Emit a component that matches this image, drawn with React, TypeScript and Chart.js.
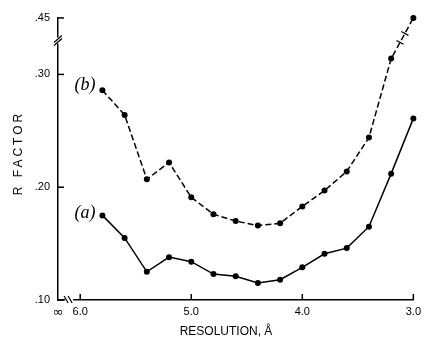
import React, { useEffect, useRef } from 'react';
import { Chart, registerables } from 'chart.js';

Chart.register(...registerables);

// Resolution (Å) of each measured point
const RESOLUTION = [5.8, 5.6, 5.4, 5.2, 5.0, 4.8, 4.6, 4.4, 4.2, 4.0, 3.8, 3.6, 3.4, 3.2, 3.0];
// Curve (a): solid
const SERIES_A = [0.175, 0.155, 0.125, 0.138, 0.134, 0.123, 0.121, 0.115, 0.118, 0.129, 0.141, 0.146, 0.165, 0.212, 0.261];
// Curve (b): dashed
const SERIES_B = [0.286, 0.264, 0.207, 0.222, 0.191, 0.176, 0.170, 0.166, 0.168, 0.183, 0.197, 0.214, 0.244, 0.314, 0.45];

const X_TICKS = [6.2, 6.0, 5.0, 4.0, 3.0];
const X_TICK_LABELS = ['∞', '6.0', '5.0', '4.0', '3.0'];
const Y_TICKS = [0.10, 0.20, 0.30, 0.45];
const Y_TICK_LABELS = ['.10', '.20', '.30', '.45'];

const X_MIN = 3.0;
const X_MAX = 6.2;
const Y_MIN = 0.10;
// broken y axis: values above BREAK_LOW are compressed so that BREAK_HIGH sits at AXIS_TOP
const BREAK_LOW = 0.32;
const BREAK_HIGH = 0.45;
const AXIS_TOP = 0.35;

function toAxis(v: number): number {
  return v <= BREAK_LOW ? v : BREAK_LOW + ((v - BREAK_LOW) * (AXIS_TOP - BREAK_LOW)) / (BREAK_HIGH - BREAK_LOW);
}

const TICK_FONT = { family: '"Liberation Sans", Arial, sans-serif', size: 11 };
const INF_FONT = { family: '"DejaVu Sans", sans-serif', size: 13 };

const decorPlugin = {
  id: 'decor',
  afterDraw(chart: any) {
    const { ctx, chartArea, scales } = chart;
    const xs = scales.x;
    const ys = scales.y;
    const L = chartArea.left;
    const B = chartArea.bottom;
    const seg = (x1: number, y1: number, x2: number, y2: number) => {
      ctx.beginPath();
      ctx.moveTo(x1, y1);
      ctx.lineTo(x2, y2);
      ctx.stroke();
    };
    ctx.save();
    ctx.strokeStyle = '#000';
    ctx.lineWidth = 1.5;
    ctx.setLineDash([]);

    // inward tick marks
    Y_TICKS.forEach((v) => {
      const y = ys.getPixelForValue(toAxis(v));
      seg(L, y, L + 6, y);
    });
    X_TICKS.slice(1).forEach((v) => {
      const x = xs.getPixelForValue(v);
      seg(x, B, x, B - 6);
    });

    // y axis break
    const yb = ys.getPixelForValue(0.33);
    ctx.fillStyle = '#fff';
    ctx.fillRect(L - 3, yb - 3, 6, 6);
    ctx.lineWidth = 1.2;
    seg(L - 4, yb + 2, L + 4, yb - 5);
    seg(L - 4, yb + 5, L + 4, yb - 2);

    // x axis break
    const xb = (L + xs.getPixelForValue(6.0)) / 2;
    ctx.fillStyle = '#fff';
    ctx.fillRect(xb - 4, B - 3, 8, 6);
    seg(xb - 5, B - 4, xb - 1, B + 3);
    seg(xb - 1, B - 4, xb + 3, B + 3);

    // break marks on curve (b) between its last two points
    const metaB = chart.getDatasetMeta(1);
    const p1 = metaB.data[RESOLUTION.length - 2];
    const p2 = metaB.data[RESOLUTION.length - 1];
    if (p1 && p2) {
      const dx = p2.x - p1.x;
      const dy = p2.y - p1.y;
      const len = Math.hypot(dx, dy);
      const nx = -dy / len;
      const ny = dx / len;
      ctx.lineWidth = 1.3;
      [0.4, 0.62].forEach((t) => {
        const cx = p1.x + dx * t;
        const cy = p1.y + dy * t;
        seg(cx - nx * 4, cy - ny * 4, cx + nx * 4, cy + ny * 4);
      });
    }

    // series labels
    ctx.fillStyle = '#000';
    ctx.font = 'italic 18px "Liberation Serif", "Times New Roman", serif';
    ctx.textAlign = 'right';
    ctx.textBaseline = 'middle';
    const metaA = chart.getDatasetMeta(0);
    const a0 = metaA.data[0];
    const b0 = metaB.data[0];
    if (a0) ctx.fillText('(a)', a0.x - 7, a0.y - 2);
    if (b0) ctx.fillText('(b)', b0.x - 7, b0.y - 5);

    // axis titles
    ctx.font = '12px "Liberation Sans", Arial, sans-serif';
    ctx.textAlign = 'center';
    ctx.textBaseline = 'alphabetic';
    ctx.fillText('RESOLUTION, Å', 226, 335);

    ctx.save();
    ctx.translate(22, (chartArea.top + chartArea.bottom) / 2 - 6);
    ctx.rotate(-Math.PI / 2);
    try {
      (ctx as any).letterSpacing = '3px';
    } catch (e) {}
    ctx.fillText('R FACTOR', 0, 0);
    ctx.restore();

    ctx.restore();
  },
};

export default function App() {
  const canvasRef = useRef<HTMLCanvasElement | null>(null);

  useEffect(() => {
    const canvas = canvasRef.current;
    if (!canvas) return;
    const chart = new Chart(canvas, {
      type: 'line',
      data: {
        datasets: [
          {
            label: '(a)',
            data: RESOLUTION.map((x, i) => ({ x, y: toAxis(SERIES_A[i]) })),
            borderColor: '#000',
            backgroundColor: '#000',
            borderWidth: 1.5,
            pointRadius: 3,
            pointBorderWidth: 0,
            pointBackgroundColor: '#000',
            tension: 0,
            clip: false as any,
          },
          {
            label: '(b)',
            data: RESOLUTION.map((x, i) => ({ x, y: toAxis(SERIES_B[i]) })),
            borderColor: '#000',
            backgroundColor: '#000',
            borderWidth: 1.5,
            borderDash: [6, 3],
            pointRadius: 3,
            pointBorderWidth: 0,
            pointBackgroundColor: '#000',
            tension: 0,
            clip: false as any,
          },
        ],
      },
      options: {
        responsive: true,
        maintainAspectRatio: false,
        animation: false,
        layout: { padding: { top: 18, right: 6, left: 0, bottom: 0 } },
        plugins: {
          legend: { display: false },
          tooltip: { enabled: false },
        },
        scales: {
          x: {
            type: 'linear',
            reverse: true,
            min: X_MIN,
            max: X_MAX,
            grid: { display: false, drawTicks: false },
            border: { display: true, color: '#000', width: 1.5 },
            afterBuildTicks: (scale: any) => {
              scale.ticks = X_TICKS.map((v) => ({ value: v }));
            },
            afterFit: (scale: any) => {
              scale.height = 37;
            },
            ticks: {
              autoSkip: false,
              maxRotation: 0,
              padding: 5,
              color: '#000',
              font: (c: any) => (c.index === 0 ? INF_FONT : TICK_FONT),
              callback: (_v: any, i: number) => X_TICK_LABELS[i],
            },
          },
          y: {
            type: 'linear',
            min: Y_MIN,
            max: AXIS_TOP,
            grid: { display: false, drawTicks: false },
            border: { display: true, color: '#000', width: 1.5 },
            afterBuildTicks: (scale: any) => {
              scale.ticks = Y_TICKS.map((v) => ({ value: toAxis(v) }));
            },
            afterFit: (scale: any) => {
              scale.width = 58;
            },
            ticks: {
              autoSkip: false,
              padding: 8,
              color: '#000',
              font: TICK_FONT,
              callback: (_v: any, i: number) => Y_TICK_LABELS[i],
            },
          },
        },
      },
      plugins: [decorPlugin],
    } as any);
    return () => chart.destroy();
  }, []);

  return (
    <div style={{ position: 'fixed', left: 0, top: 0, width: 426, height: 337, background: '#fff' }}>
      <canvas ref={canvasRef} />
    </div>
  );
}
